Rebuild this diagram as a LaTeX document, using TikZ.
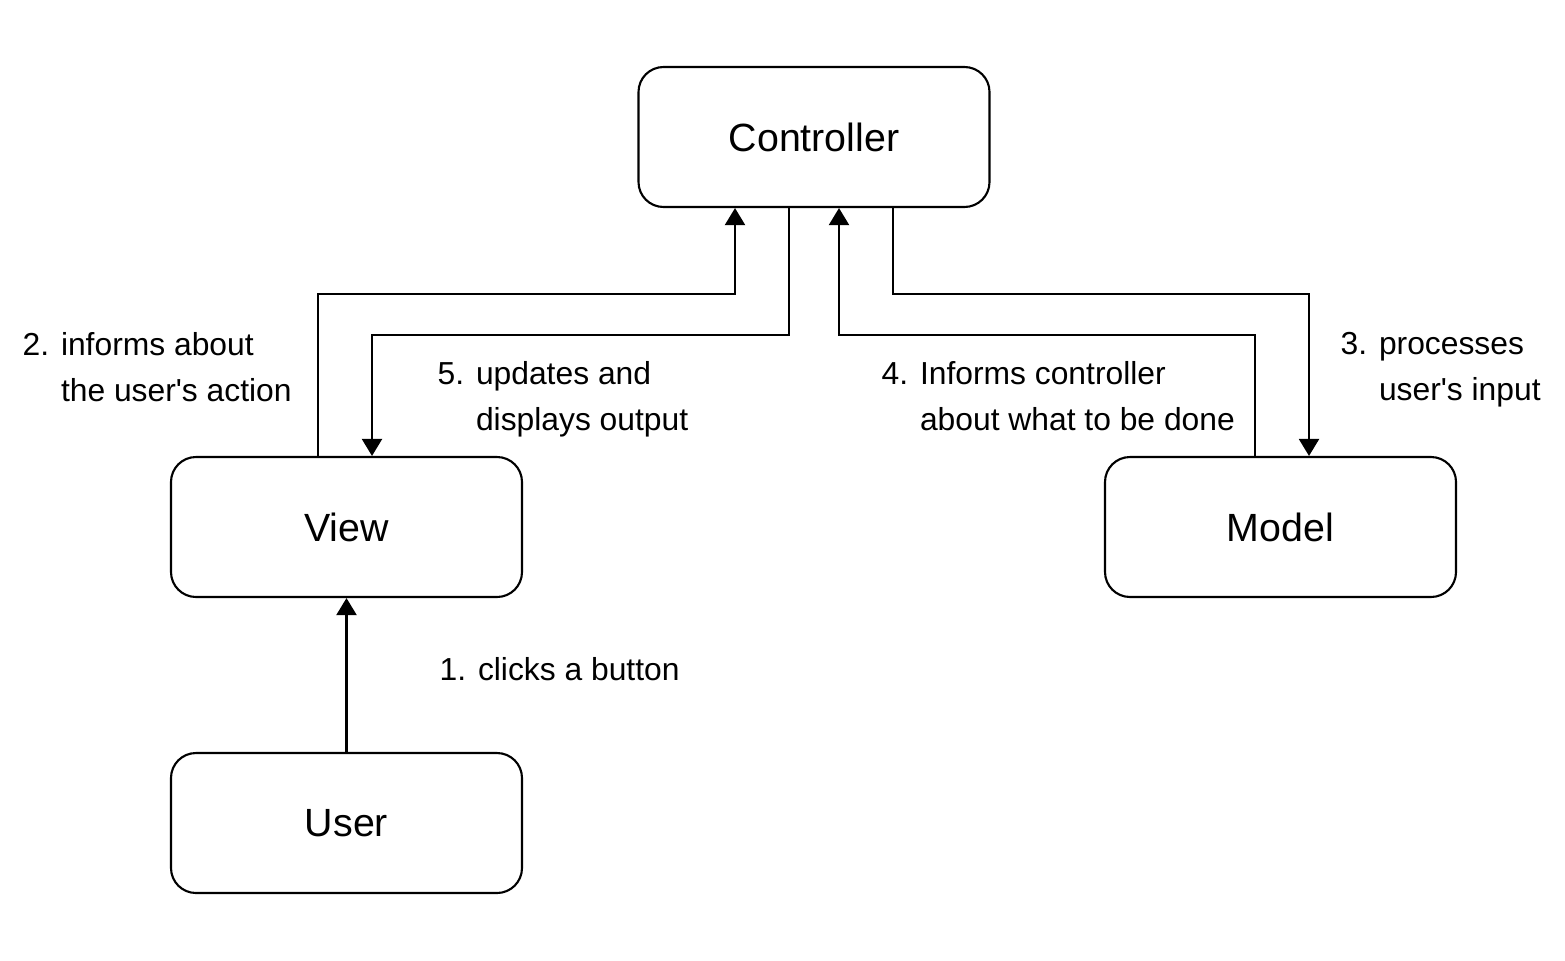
\documentclass[tikz,border=0pt]{standalone}
\usepackage{fontspec}
\setmainfont{Liberation Sans}
\usetikzlibrary{arrows.meta}
\begin{document}
\begin{tikzpicture}[
  box/.style={draw, line width=0.6pt, rounded corners=0.25cm, minimum width=3.51cm, minimum height=1.40cm, inner sep=0pt, font=\fontsize{11.2pt}{13pt}\selectfont},
  conn/.style={line width=0.6pt},
  arr/.style={conn, -{Triangle[width=0.2cm,length=0.17cm]}},
  lab/.style={inner sep=0pt, anchor=west, align=left, font=\fontsize{9.05pt}{13.1pt}\selectfont}
]
\useasboundingbox (0,0) rectangle (15.65,9.6);
\node[box] (ctrl) at (8.14,8.23) {Controller};
\node[box] (view) at (3.465,4.33) {View};
\node[box] (model) at (12.805,4.33) {Model};
\node[box] (user) at (3.465,1.37) {User};

\coordinate (p1) at (3.18,6.66);
\coordinate (p2) at (7.35,6.66);
\coordinate (q1) at (7.89,6.25);
\coordinate (q2) at (3.72,6.25);
\coordinate (r1) at (12.55,6.25);
\coordinate (r2) at (8.39,6.25);
\coordinate (s1) at (8.93,6.66);
\coordinate (s2) at (13.09,6.66);

\draw[arr] (user.north) -- (view.south);
\draw[arr] (view.north -| p1) -- (p1) -- (p2) -- (ctrl.south -| p2);
\draw[arr] (ctrl.south -| q1) -- (q1) -- (q2) -- (view.north -| q2);
\draw[arr] (model.north -| r1) -- (r1) -- (r2) -- (ctrl.south -| r2);
\draw[arr] (ctrl.south -| s1) -- (s1) -- (s2) -- (model.north -| s2);

\node[lab] (lab2) at (0.22,5.93) {2. informs about\\\phantom{2. }the user\textquotesingle s action};
\node[lab] (lab5) at (4.37,5.61) {5. updates and\\\phantom{5. }displays output};
\node[lab] (lab4) at (8.81,5.64) {4. Informs controller\\\phantom{4. }about what to be done};
\node[lab] (lab3) at (13.40,5.90) {3. processes\\\phantom{3. }user\textquotesingle s input};
\node[lab] (lab1) at (4.39,2.91) {1. clicks a button};
\end{tikzpicture}
\end{document}
